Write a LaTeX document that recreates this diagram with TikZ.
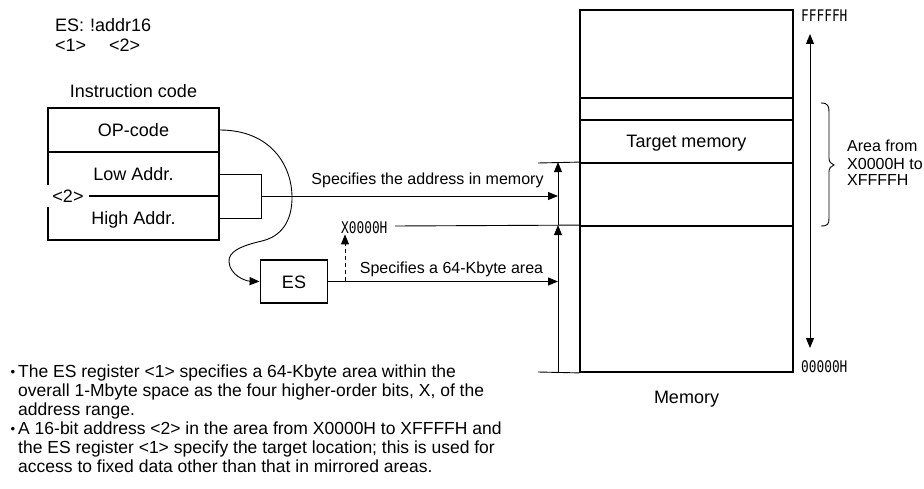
\documentclass[tikz,border=0pt]{standalone}
\usepackage{fontspec}
\setmainfont{Liberation Sans}
\newfontfamily\hexfont[FakeStretch=0.8]{DejaVu Sans Mono}
\usetikzlibrary{arrows.meta}

\begin{document}
\begin{tikzpicture}[x=1pt,y=-1pt,
  font=\fontsize{18}{21}\selectfont,
  cell/.style={draw,line width=1.8pt,minimum width=171pt,minimum height=44pt,inner sep=0pt,text height=13pt,text depth=0pt},
  memcell/.style={draw,line width=1.8pt,minimum width=213pt,inner sep=0pt,text height=13pt,text depth=0pt},
  esbox/.style={draw,line width=1.8pt,minimum width=67pt,minimum height=43pt,inner sep=0pt,text height=13pt,text depth=0pt},
  lnk/.style={line width=0.9pt},
  arr/.style={lnk,-{Triangle[length=10pt,width=8pt]}},
  note/.style={font=\fontsize{16}{17}\selectfont,inner sep=0pt},
  hex/.style={font=\hexfont\fontsize{16}{17}\selectfont,inner sep=0pt},
  para/.style={font=\fontsize{17.5}{19.2}\selectfont,align=left,inner sep=0pt,anchor=base west},
]
\useasboundingbox (0,0) rectangle (924,489);

\node[anchor=base west,inner sep=0pt] (asm) at (55,32) {ES:\hspace{6pt}!addr16};
\node[anchor=base west,inner sep=0pt] (opnd) at (55,52) {<1>\hspace{23pt}<2>};
\node[anchor=base,inner sep=0pt] (ictitle) at (133.5,98) {Instruction code};

\node[cell] (op) at (133.5,130) {OP-code};
\node[cell] (low) at (133.5,174) {Low Addr.};
\node[cell] (high) at (133.5,218) {High Addr.};
\node[fill=white,inner sep=5pt] (two) at (68,196) {<2>};

\node[esbox] (es) at (294,281.5) {ES};

\node[memcell,minimum height=88pt] (memtop) at (686.5,54) {};
\node[memcell,minimum height=22pt] (memgap) at (686.5,109) {};
\node[memcell,minimum height=43pt] (target) at (686.5,141.5) {Target memory};
\node[memcell,minimum height=63pt] (memmid) at (686.5,194.5) {};
\node[memcell,minimum height=146pt] (membot) at (686.5,299) {};
\node[anchor=base,inner sep=0pt] (memlbl) at (686.5,403) {Memory};

\node[hex,anchor=base west] (hitop) at (801,22) {FFFFFH};
\node[hex,anchor=base west] (hibot) at (801,372) {00000H};
\node[hex,anchor=base west] (xlo) at (341,234) {X0000H};

\coordinate (jn) at (261,196);
\coordinate (vaxis) at (558,372);
\coordinate (tickT) at (538,163);
\coordinate (tickB) at (538,372);
\coordinate (xtail) at (395,226);
\coordinate (dfoot) at (345,281);
\coordinate (spanT) at (810,34);
\coordinate (spanB) at (810,348);

\draw[lnk] (low.east) -- (low.east -| jn) -- (high.east -| jn) -- (high.east);
\draw[arr] (jn) -- (jn -| vaxis);
\node[note,anchor=base] (lbladdr) at (427.5,185) {Specifies the address in memory};

\draw[arr] (op.east) .. controls (270,130) and (293,165) .. (292,200)
  .. controls (291,228) and (275,238) .. (262,241)
  .. controls (240,246) and (228,252) .. (229,262)
  .. controls (230,275) and (245,281) .. (es.west);

\draw[arr] (es.east) -- (es.east -| vaxis);
\node[note,anchor=base] (lblarea) at (451.5,273) {Specifies a 64-Kbyte area};
\draw[arr,dash pattern=on 4pt off 3pt] (dfoot) -- (dfoot |- xlo.south);

\draw[lnk] (xtail) -- (membot.north west);
\draw[lnk] (tickT) -- (memmid.north west);
\draw[lnk] (tickB) -- (membot.south west);
\draw[arr] (vaxis) -- (vaxis |- membot.north);
\draw[arr] (vaxis |- membot.north) -- (vaxis |- memmid.north);

\draw[lnk,{Triangle[length=10pt,width=8pt]}-{Triangle[length=10pt,width=8pt]}] (spanT) -- (spanB);
\draw[lnk] (821,103) .. controls (828,103) and (829,106) .. (829,112) -- (829,158)
  .. controls (829,162) and (831,164) .. (834,165)
  .. controls (831,166) and (829,168) .. (829,172) -- (829,218)
  .. controls (829,224) and (828,226) .. (821,226);
\node[note,align=left,anchor=base west] (rng) at (847,186) {Area from\\X0000H to\\XFFFFH};

\node[para] (bul1) at (18,415.4) {\llap{\raisebox{0.5pt}{\scalebox{0.75}{\textbullet}}\hspace{3pt}}The ES register <1> specifies a 64-Kbyte area within the\\overall 1-Mbyte space as the four higher-order bits, X, of the\\address range.};
\node[para] (bul2) at (18,472.4) {\llap{\raisebox{0.5pt}{\scalebox{0.75}{\textbullet}}\hspace{3pt}}A 16-bit address <2> in the area from X0000H to XFFFFH and\\the ES register <1> specify the target location; this is used for\\access to fixed data other than that in mirrored areas.};
\end{tikzpicture}
\end{document}
